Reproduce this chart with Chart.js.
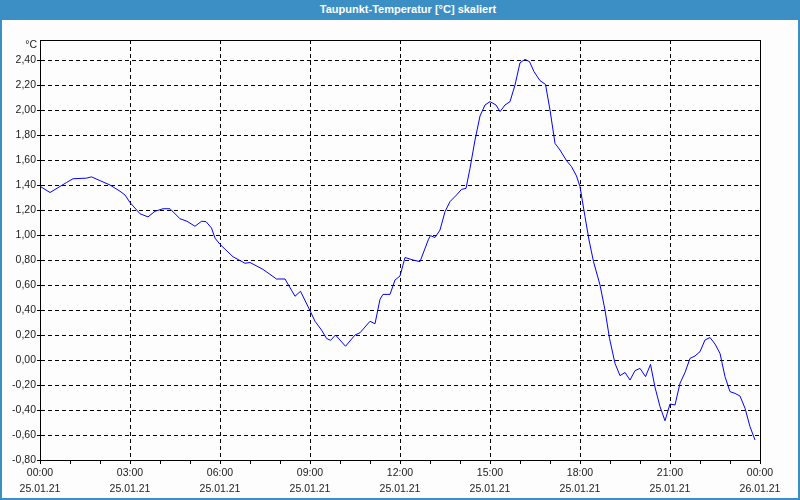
<!DOCTYPE html>
<html>
<head>
<meta charset="utf-8">
<title>Taupunkt-Temperatur</title>
<script src="https://cdn.jsdelivr.net/npm/chart.js@4/dist/chart.umd.min.js"></script>
<style>
    html, body { margin: 0; padding: 0; background: #fcfdfc; }
    #frame {
        position: relative;
        width: 800px;
        height: 500px;
        box-sizing: border-box;
        border: 2px solid #3c8fc5;
        border-top: none;
        overflow: hidden;
    }
    #titlebar {
        position: absolute;
        left: 0; top: 0; right: 0;
        height: 20px;
        padding-left: 16px;
        background: #3c8fc5;
        color: #ffffff;
        font: bold 11px "Liberation Sans", Arial, sans-serif;
        text-align: center;
        line-height: 19px;
        z-index: 2;
    }
    #chart { position: absolute; left: -2px; top: 0; }
</style>
</head>
<body>
<div id="frame">
    <div id="titlebar">Taupunkt-Temperatur [°C] skaliert</div>
    <canvas id="chart" width="800" height="500"></canvas>
</div>
<script>
// Zeit in Minuten ab 25.01.21 00:00
const minutes = [
    0, 20, 53, 66, 93, 103, 120, 140, 160, 170, 180, 200, 216, 230, 246, 260,
    280, 294, 310, 323, 332, 343, 350, 360, 386, 410, 420, 446, 473, 490, 510, 521,
    540, 550, 563, 573, 581, 591, 611, 630, 640, 660, 670, 680, 686, 700, 710, 720,
    730, 746, 760, 777, 781, 790, 800, 810, 820, 833, 843, 852, 860, 870, 880, 890,
    900, 912, 920, 930, 940, 950, 960, 970, 979, 988, 1000, 1011, 1020, 1030, 1040, 1053,
    1063, 1073, 1080, 1090, 1098, 1107, 1120, 1130, 1139, 1150, 1160, 1170, 1180, 1190, 1200, 1211,
    1221, 1230, 1240, 1250, 1260, 1270, 1280, 1290, 1300, 1310, 1320, 1330, 1340, 1350, 1360, 1370,
    1380, 1390, 1400, 1410, 1420, 1430
];

const dewPoint = [
    1.39, 1.34, 1.42, 1.45, 1.455, 1.465, 1.435, 1.40, 1.35, 1.32, 1.26, 1.17, 1.145, 1.19, 1.21, 1.21,
    1.13, 1.11, 1.07, 1.11, 1.107, 1.056, 0.975, 0.925, 0.826, 0.774, 0.78, 0.725, 0.648, 0.648, 0.51, 0.55,
    0.395, 0.31, 0.24, 0.173, 0.157, 0.20, 0.11, 0.20, 0.218, 0.31, 0.29, 0.486, 0.525, 0.525, 0.64, 0.672,
    0.82, 0.80, 0.787, 0.966, 0.995, 0.98, 1.04, 1.187, 1.267, 1.32, 1.365, 1.373, 1.533, 1.76, 1.952, 2.04,
    2.067, 2.04, 1.987, 2.04, 2.067, 2.20, 2.378, 2.405, 2.387, 2.307, 2.235, 2.205, 2.00, 1.733, 1.68, 1.595,
    1.547, 1.472, 1.387, 1.147, 0.96, 0.787, 0.60, 0.40, 0.173, -0.027, -0.125, -0.10, -0.16, -0.085, -0.067, -0.133,
    -0.035, -0.218, -0.373, -0.486, -0.352, -0.36, -0.186, -0.10, 0.013, 0.032, 0.067, 0.16, 0.18, 0.128, 0.053, -0.133,
    -0.253, -0.267, -0.288, -0.386, -0.533, -0.64
];

const yTicks = [-0.8, -0.6, -0.4, -0.2, 0, 0.2, 0.4, 0.6, 0.8, 1.0, 1.2, 1.4, 1.6, 1.8, 2.0, 2.2, 2.4];

// Beschriftung alle 3 Stunden, kleine Striche jede Stunde
const xLabelTimes = ["00:00", "03:00", "06:00", "09:00", "12:00", "15:00", "18:00", "21:00", "00:00"];
const xLabelDates = ["25.01.21", "25.01.21", "25.01.21", "25.01.21", "25.01.21", "25.01.21", "25.01.21", "25.01.21", "26.01.21"];

const FONT = "'Liberation Sans', Arial, sans-serif";
const TEXT_COLOR = "#1c1c1c";

function formatValue(v) {
    return v.toFixed(2).replace(".", ",");
}

const boxPlugin = {
    id: "box",
    afterDraw(chart) {
        const { ctx, chartArea } = chart;
        ctx.save();
        ctx.strokeStyle = "#000";
        ctx.lineWidth = 1;
        ctx.setLineDash([]);
        ctx.strokeRect(
            Math.round(chartArea.left) + 0.5,
            Math.round(chartArea.top) + 0.5,
            Math.round(chartArea.right - chartArea.left),
            Math.round(chartArea.bottom - chartArea.top)
        );
        // Einheit oben links
        ctx.fillStyle = TEXT_COLOR;
        ctx.font = "10.5px " + FONT;
        ctx.textAlign = "right";
        ctx.textBaseline = "middle";
        ctx.fillText("°C", chartArea.left - 3, chartArea.top + 5);
        ctx.restore();
    }
};

const ctx = document.getElementById("chart").getContext("2d");

new Chart(ctx, {
    type: "line",
    data: {
        datasets: [
            {
                label: "Taupunkt",
                data: minutes.map((m, i) => ({ x: m, y: dewPoint[i] })),
                borderColor: "#0000ff",
                borderWidth: 1,
                pointRadius: 0,
                tension: 0,
                fill: false,
            },
        ],
    },
    options: {
        responsive: false,
        animation: false,
        devicePixelRatio: 1,
        layout: {
            padding: { left: 0, right: 40, top: 40, bottom: 0 },
        },
        plugins: {
            legend: { display: false },
            tooltip: { enabled: false },
        },
        scales: {
            x: {
                type: "linear",
                min: 0,
                max: 1440,
                afterFit(scale) {
                    scale.height = 40;
                },
                afterBuildTicks(scale) {
                    const t = [];
                    for (let m = 0; m <= 1440; m += 60) t.push({ value: m });
                    scale.ticks = t;
                },
                ticks: {
                    autoSkip: false,
                    maxRotation: 0,
                    padding: 1,
                    color: TEXT_COLOR,
                    font: { family: FONT, size: 10.5, lineHeight: 1.5 },
                    callback(value) {
                        if (value % 180 !== 0) return "";
                        const i = value / 180;
                        return [xLabelTimes[i], xLabelDates[i]];
                    },
                },
                grid: {
                    color: (c) => (c.tick && c.tick.value % 180 === 0 ? "#000" : "rgba(0,0,0,0)"),
                    tickColor: "#000",
                    tickLength: 4,
                    tickBorderDash: [],
                    lineWidth: 1,
                },
                border: { display: true, color: "#000", width: 1, dash: [4, 3] },
            },
            y: {
                min: -0.8,
                max: 2.56,
                afterFit(scale) {
                    scale.width = 40;
                },
                afterBuildTicks(scale) {
                    scale.ticks = yTicks.map((v) => ({ value: v }));
                },
                ticks: {
                    padding: 1,
                    color: TEXT_COLOR,
                    font: { family: FONT, size: 10.5 },
                    callback: (v) => formatValue(v),
                },
                grid: {
                    color: "#000",
                    tickColor: "#000",
                    tickLength: 3,
                    tickBorderDash: [],
                    lineWidth: 1,
                },
                border: { display: true, color: "#000", width: 1, dash: [4, 3] },
            },
        },
    },
    plugins: [boxPlugin],
});
</script>
</body>
</html>
